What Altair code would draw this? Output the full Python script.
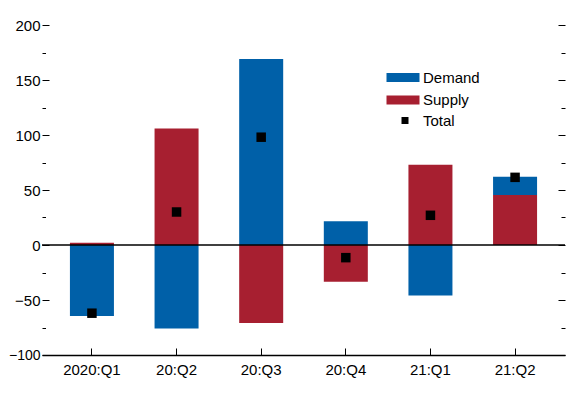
import altair as alt
import pandas as pd

quarters = ["2020:Q1", "20:Q2", "20:Q3", "20:Q4", "21:Q1", "21:Q2"]
demand = [-64.5, -76, 169, 21.5, -46, 16.5]
supply = [2, 106, -71, -33.5, 73, 45.5]
total = [-62, 30, 98, -11.5, 27, 61.5]
bar_series = ["Demand", "Supply"]
bar_colors = ["#0060A8", "#A71F30"]
y_domain = [-100, 200]
y_ticks = [-100, -75, -50, -25, 0, 25, 50, 75, 100, 125, 150, 175, 200]

rows = []
for q, d, s in zip(quarters, demand, supply):
    rows.append({"quarter": q, "series": "Supply", "value": s, "ord": 0})
    rows.append({"quarter": q, "series": "Demand", "value": d, "ord": 1})
bars_df = pd.DataFrame(rows)
tot_df = pd.DataFrame({"quarter": quarters, "value": total, "series": "Total"})

FONT = "Liberation Sans"
tick_expr = {"expr": "datum.value % 50 === 0 ? -7 : -3.5"}

x_enc = alt.X(
    "quarter:N",
    sort=quarters,
    title=None,
    scale=alt.Scale(paddingInner=0.48, paddingOuter=0.33),
    axis=alt.Axis(
        labelAngle=0,
        domainColor="black",
        domainWidth=1.5,
        tickColor="black",
        tickWidth=1,
        tickSize={"expr": "-7"},
        labelPadding=14,
        labelFont=FONT,
        labelFontSize=15,
        labelColor="black",
        grid=False,
    ),
)

legend_common = dict(
    title=None,
    orient="none",
    labelFont=FONT,
    labelFontSize=15,
    labelColor="black",
    labelOffset=1,
    symbolSize=100,
    symbolStrokeWidth=0,
    rowPadding=6.5,
)

color_enc = alt.Color(
    "series:N",
    scale=alt.Scale(domain=bar_series, range=bar_colors),
    legend=alt.Legend(
        legendX=365,
        legendY=45,
        symbolType="M-5.6,-0.9H1V0.9H-5.6Z",
        **legend_common,
    ),
)

y_scale = alt.Scale(domain=y_domain, nice=False, zero=False)

bars = alt.Chart(bars_df).mark_bar().encode(
    x=x_enc,
    y=alt.Y(
        "value:Q",
        stack="zero",
        scale=y_scale,
        title=None,
        axis=alt.Axis(
            values=y_ticks,
            domain=False,
            grid=False,
            tickColor="black",
            tickWidth=1,
            tickSize=tick_expr,
            labelExpr="datum.value % 50 === 0 ? datum.label : ''",
            labelPadding=9,
            labelFont=FONT,
            labelFontSize={"condition": {"test": "datum.value < -75", "value": 14}, "value": 15},
            labelColor="black",
        ),
    ),
    color=color_enc,
    order=alt.Order("ord:Q"),
)

points = alt.Chart(tot_df).mark_square(size=90, opacity=1).encode(
    x=alt.X("quarter:N", sort=quarters),
    y=alt.Y("value:Q", scale=y_scale, axis=None),
    fill=alt.Fill(
        "series:N",
        scale=alt.Scale(domain=["Total"], range=["black"]),
        legend=alt.Legend(
            legendX=365,
            legendY=88,
            symbolType="M-2.6,-0.7H-1.2V0.7H-2.6Z",
            **legend_common,
        ),
    ),
)

zero = alt.Chart(tot_df).mark_rule(color="black", strokeWidth=1.5).encode(
    y=alt.Y(
        "z:Q",
        scale=y_scale,
        axis=alt.Axis(
            orient="right",
            values=y_ticks,
            domain=False,
            grid=False,
            labels=False,
            tickColor="black",
            tickWidth=1,
            tickSize={"expr": "datum.value % 50 === 0 ? -7 : -4"},
            title=None,
        ),
    ),
).transform_calculate(z="0").transform_filter("datum.quarter === '2020:Q1'")

chart = alt.layer(bars, points, zero).resolve_scale(y="independent").properties(
    width=523,
    height=330,
    autosize="none",
    padding={"left": 34, "top": 17, "right": 4, "bottom": 25},
).configure_view(stroke=None)

chart.save("out.html", embed_options={"renderer": "svg", "actions": False})
